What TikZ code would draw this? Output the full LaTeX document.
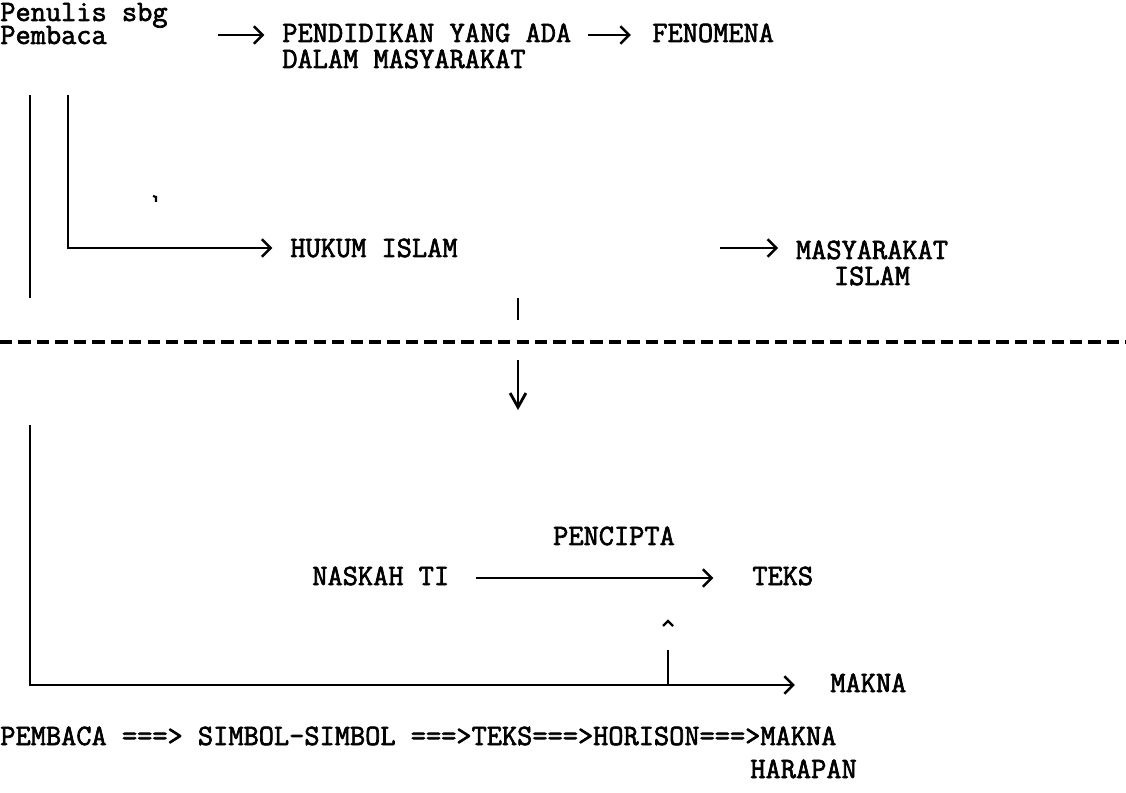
\documentclass[tikz,border=0pt]{standalone}
\usepackage{fontspec}
\newfontfamily\ketik{Latin Modern Mono}[FakeBold=2.2]
\usetikzlibrary{arrows.meta}

\tikzset{
  lbl/.style={font=\ketik\fontsize{16.8}{14.8}\selectfont,inner sep=0pt,anchor=base west},
  wire/.style={line width=1.6pt},
  arr/.style={wire,-{Straight Barb[length=5pt,width=10pt,line width=1.4pt]}},
}

\begin{document}
\begin{tikzpicture}[x=0.02cm,y=-0.02cm]
	\useasboundingbox (0,0) rectangle (1126,793);

	%upper texts
	\node[lbl] (penulis) at (0,21) {Penulis sbg};
	\node[lbl] (pembaca) at (0,44) {Pembaca};
	\node[lbl,align=left] (pendidikan) at (282,68) {PENDIDIKAN YANG ADA\\DALAM MASYARAKAT};
	\node[lbl] (fenomena) at (652,42) {FENOMENA};
	\node[lbl] (hukum) at (290,257) {HUKUM ISLAM};
	\node[lbl,align=center,anchor=base] (masy) at (872,285) {MASYARAKAT\\ISLAM};

	%lower texts
	\node[lbl] (naskah) at (312,585) {NASKAH TI};
	\node[lbl,anchor=base] (pencipta) at (614,545) {PENCIPTA};
	\node[lbl] (teks) at (752,585) {TEKS};
	\node[lbl] (makna) at (830,692) {MAKNA};
	\node[lbl] (alur) at (0,745) {PEMBACA ===> SIMBOL-SIMBOL ===>TEKS===>HORISON===>MAKNA};
	\node[lbl] (harapan) at (750,778) {HARAPAN};

	%free ends
	\coordinate (a1) at (218,35);
	\coordinate (a2) at (588,35);
	\coordinate (kiri) at (30,95);
	\coordinate (dalam) at (68,95);
	\coordinate (siku) at (68,248);
	\coordinate (a3) at (720,248);
	\coordinate (garis) at (518,298);
	\coordinate (turun) at (518,360);
	\coordinate (bawah) at (30,425);
	\coordinate (siku2) at (30,685);
	\coordinate (naik) at (668,650);

	%arrows top
	\draw[arr] (a1) -- ([xshift=-10]a1 -| pendidikan.west); %to PENDIDIKAN
	\draw[arr] (a2) -- ([xshift=-12]a2 -| fenomena.west); %to FENOMENA
	\draw[wire] (kiri) -- (30,298); %outer line
	\draw[arr] (dalam) -- (siku) -- ([xshift=-10]siku -| hukum.west); %to HUKUM ISLAM
	\draw[arr] (a3) -- ([xshift=-10]a3 -| masy.west); %to MASYARAKAT ISLAM
	\draw[line width=1.2pt] (153,196) -- (156,197) -- (156,202); %stray mark

	%split
	\draw[wire] (garis) -- ++(0,22);
	\draw[line width=2pt,dash pattern=on 7pt off 3.5pt] (0,342) -- (1126,342);
	\draw[wire,-{Straight Barb[length=8pt,width=9pt,line width=1.6pt]}] (turun) -- ++(0,50);

	%arrows bottom
	\draw[arr] ([xshift=15]naskah.east |- 0,578) -- ([xshift=-22]teks.west |- 0,578); %PENCIPTA
	\draw[arr] (bawah) -- (siku2) -- ([xshift=-20]siku2 -| makna.west); %to MAKNA
	\draw[wire] (naik) -- (naik |- siku2);
	\draw[line width=1.4pt] (663,626) -- (668,621) -- (673,626); %caret
\end{tikzpicture}
\end{document}
